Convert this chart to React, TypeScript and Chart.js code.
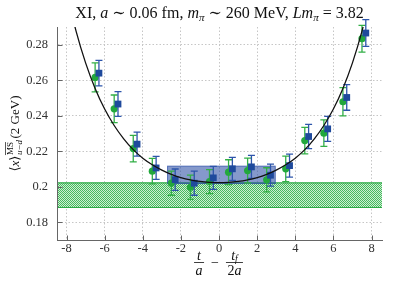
import React, { useEffect, useRef } from 'react';
import { Chart, registerables } from 'chart.js';

Chart.register(...registerables);

const FAMILY = '"Liberation Serif", "DejaVu Serif", serif';

// ---- data ----
const greenX = [-6.5, -5.5, -4.5, -3.5, -2.5, -1.5, -0.5, 0.5, 1.5, 2.5, 3.5, 4.5, 5.5, 6.5, 7.5];
const greenY = [0.2616, 0.2439, 0.2215, 0.2088, 0.202, 0.1997, 0.2029, 0.2082, 0.2091, 0.2039, 0.2101, 0.226, 0.2302, 0.2479, 0.2834];
const greenErr = [0.0082, 0.0078, 0.0075, 0.0072, 0.0068, 0.0068, 0.0068, 0.007, 0.007, 0.0068, 0.0072, 0.0075, 0.0075, 0.008, 0.0075];

const blueX = [-6.3, -5.3, -4.3, -3.3, -2.3, -1.3, -0.3, 0.7, 1.7, 2.7, 3.7, 4.7, 5.7, 6.7, 7.7];
const blueY = [0.264, 0.2466, 0.224, 0.2106, 0.204, 0.202, 0.205, 0.2101, 0.2112, 0.2065, 0.2119, 0.2283, 0.2326, 0.2503, 0.2866];
const blueErr = [0.0072, 0.007, 0.0068, 0.0065, 0.006, 0.0068, 0.0065, 0.0065, 0.0065, 0.0062, 0.0065, 0.0068, 0.007, 0.0072, 0.0075];

const fitX = [-8, -7.5, -7, -6.5, -6, -5.5, -5, -4.5, -4, -3.5, -3, -2.5, -2, -1.5, -1, -0.5, 0, 0.5, 1, 1.5, 2, 2.5, 3, 3.5, 4, 4.5, 5, 5.5, 6, 6.5, 7, 7.5, 8];
const fitY = [0.3098, 0.2877, 0.2698, 0.2554, 0.2438, 0.2345, 0.227, 0.2209, 0.2161, 0.2124, 0.2094, 0.207, 0.2052, 0.2039, 0.203, 0.2025, 0.2023, 0.2025, 0.203, 0.2039, 0.2052, 0.207, 0.2094, 0.2124, 0.2161, 0.2209, 0.227, 0.2345, 0.2438, 0.2554, 0.2698, 0.2877, 0.3098];

const greenBandY = [0.1883, 0.2022];
const blueBandX = [-2.7, 2.95];
const blueBandY = [0.2018, 0.2116];

const xTicks = [-8, -6, -4, -2, 0, 2, 4, 6, 8];
const yTicks = [0.18, 0.2, 0.22, 0.24, 0.26, 0.28];
const xRange = [-8.5, 8.55];
const yRange = [0.17, 0.29];

// ---- text helpers ----
type Part = { t: string; it?: boolean; s: number; dy?: number };
const fontOf = (p: Part) => `${p.it ? 'italic ' : ''}${p.s}px ${FAMILY}`;
function runWidth(ctx: CanvasRenderingContext2D, parts: Part[]) {
  let w = 0;
  for (const p of parts) {
    ctx.font = fontOf(p);
    w += ctx.measureText(p.t).width;
  }
  return w;
}
function drawRun(ctx: CanvasRenderingContext2D, parts: Part[], x: number, y: number) {
  for (const p of parts) {
    ctx.font = fontOf(p);
    ctx.fillText(p.t, x, y + (p.dy || 0));
    x += ctx.measureText(p.t).width;
  }
  return x;
}

const titleParts: Part[] = [
  { t: 'XI, ', s: 16 },
  { t: 'a', it: true, s: 16 },
  { t: ' ∼ 0.06 fm, ', s: 16 },
  { t: 'm', it: true, s: 16 },
  { t: 'π', it: true, s: 11, dy: 3 },
  { t: ' ∼ 260 MeV, ', s: 16 },
  { t: 'Lm', it: true, s: 16 },
  { t: 'π', it: true, s: 11, dy: 3 },
  { t: ' = 3.82', s: 16 },
];

const textPlugin = {
  id: 'mathText',
  afterDraw(chart: any) {
    const ctx: CanvasRenderingContext2D = chart.ctx;
    const area = chart.chartArea;
    const cx = (area.left + area.right) / 2;
    ctx.save();
    ctx.fillStyle = '#111';
    ctx.textAlign = 'left';
    ctx.textBaseline = 'alphabetic';

    // title
    const tw = runWidth(ctx, titleParts);
    drawRun(ctx, titleParts, cx - tw / 2, 17.5);

    // x title: t/a − t_f/2a
    const s = 14;
    const num1: Part[] = [{ t: 't', it: true, s }];
    const den1: Part[] = [{ t: 'a', it: true, s }];
    const num2: Part[] = [{ t: 't', it: true, s }, { t: 'f', it: true, s: 9.5, dy: 2 }];
    const den2: Part[] = [{ t: '2', s }, { t: 'a', it: true, s }];
    const minus: Part[] = [{ t: '−', s }];
    const w1 = Math.max(runWidth(ctx, num1), runWidth(ctx, den1)) + 5;
    const w2 = Math.max(runWidth(ctx, num2), runWidth(ctx, den2)) + 5;
    const wm = runWidth(ctx, minus);
    const gap = 6;
    const total = w1 + gap + wm + gap + w2;
    let x = cx - 1 - total / 2;
    const numY = 259.5, barY = 262, denY = 275;
    const frac = (x0: number, w: number, n: Part[], d: Part[]) => {
      drawRun(ctx, n, x0 + (w - runWidth(ctx, n)) / 2, numY);
      drawRun(ctx, d, x0 + (w - runWidth(ctx, d)) / 2, denY);
      ctx.fillRect(x0 + 1, barY, w - 2, 0.8);
    };
    frac(x, w1, num1, den1);
    x += w1 + gap;
    drawRun(ctx, minus, x, 266.8);
    x += wm + gap;
    frac(x, w2, num2, den2);

    // y title
    ctx.save();
    ctx.translate(14, (area.top + area.bottom) / 2);
    ctx.rotate(-Math.PI / 2);
    const ys = 13, ss = 9;
    const pre: Part[] = [{ t: '⟨', s: ys }, { t: 'x', it: true, s: ys }, { t: '⟩', s: ys }];
    const sup: Part[] = [{ t: 'MS', s: ss }];
    const sub: Part[] = [{ t: 'u−d', it: true, s: ss }];
    const post: Part[] = [{ t: '(2 GeV)', s: ys }];
    const wp = runWidth(ctx, pre);
    const wsup = runWidth(ctx, sup);
    const wsub = runWidth(ctx, sub);
    const wpost = runWidth(ctx, post);
    const wst = Math.max(wsup, wsub) + 2;
    const tot = wp + wst + wpost;
    let yx = -tot / 2;
    const base = 4.5;
    drawRun(ctx, pre, yx, base);
    yx += wp;
    drawRun(ctx, sup, yx + 0.5, base - 5.5);
    ctx.fillRect(yx + 0.5, base - 5.5 - 8, wsup, 0.7);
    drawRun(ctx, sub, yx + 0.5, base + 3);
    yx += wst;
    drawRun(ctx, post, yx, base);
    ctx.restore();

    ctx.restore();
  },
};

let greenPattern: CanvasPattern | string = 'rgba(60,180,80,0.5)';

const bandsPlugin = {
  id: 'bands',
  beforeDatasetsDraw(chart: any) {
    const ctx: CanvasRenderingContext2D = chart.ctx;
    const { x: xs, y: ys } = chart.scales;
    const area = chart.chartArea;
    ctx.save();
    // green band
    const gTop = ys.getPixelForValue(greenBandY[1]);
    const gBot = ys.getPixelForValue(greenBandY[0]);
    ctx.fillStyle = greenPattern as any;
    ctx.fillRect(area.left + 1, gTop, area.right - area.left - 1, gBot - gTop);
    ctx.strokeStyle = 'rgb(45,170,70)';
    ctx.lineWidth = 1.2;
    ctx.beginPath();
    ctx.moveTo(area.left + 1, gTop);
    ctx.lineTo(area.right, gTop);
    ctx.moveTo(area.left + 1, gBot);
    ctx.lineTo(area.right, gBot);
    ctx.stroke();
    // blue band
    const bl = xs.getPixelForValue(blueBandX[0]);
    const br = xs.getPixelForValue(blueBandX[1]);
    const bt = ys.getPixelForValue(blueBandY[1]);
    const bb = ys.getPixelForValue(blueBandY[0]);
    ctx.fillStyle = 'rgba(45,80,165,0.58)';
    ctx.fillRect(bl, bt, br - bl, bb - bt);
    ctx.strokeStyle = 'rgba(45,80,165,0.75)';
    ctx.lineWidth = 1;
    ctx.strokeRect(bl, bt, br - bl, bb - bt);
    ctx.restore();
  },
};

const errPlugin = {
  id: 'errbars',
  beforeDatasetDraw(chart: any, args: any) {
    const ds = chart.data.datasets[args.index];
    if (!ds.errors) return;
    const ctx: CanvasRenderingContext2D = chart.ctx;
    const { x: xs, y: ys } = chart.scales;
    ctx.save();
    ctx.strokeStyle = ds.errColor;
    ctx.lineWidth = 1.3;
    ctx.beginPath();
    ds.data.forEach((p: any, i: number) => {
      const px = xs.getPixelForValue(p.x);
      const y1 = ys.getPixelForValue(p.y - ds.errors[i]);
      const y2 = ys.getPixelForValue(p.y + ds.errors[i]);
      ctx.moveTo(px, y1);
      ctx.lineTo(px, y2);
      ctx.moveTo(px - 3.5, y1);
      ctx.lineTo(px + 3.5, y1);
      ctx.moveTo(px - 3.5, y2);
      ctx.lineTo(px + 3.5, y2);
    });
    ctx.stroke();
    ctx.restore();
  },
};

const axesPlugin = {
  id: 'axesTicks',
  afterDatasetsDraw(chart: any) {
    const ctx: CanvasRenderingContext2D = chart.ctx;
    const { x: xs, y: ys } = chart.scales;
    const area = chart.chartArea;
    const L = Math.floor(area.left) + 0.5;
    const B = Math.floor(area.bottom) + 0.5;
    ctx.save();
    ctx.strokeStyle = '#666';
    ctx.lineWidth = 1;
    ctx.beginPath();
    ctx.moveTo(L, area.top);
    ctx.lineTo(L, B);
    ctx.lineTo(area.right, B);
    for (const v of xTicks) {
      const px = Math.round(xs.getPixelForValue(v)) + 0.5;
      ctx.moveTo(px, B);
      ctx.lineTo(px, B - 5);
    }
    for (const v of yTicks) {
      const py = Math.round(ys.getPixelForValue(v)) + 0.5;
      ctx.moveTo(L, py);
      ctx.lineTo(L + 5, py);
    }
    ctx.stroke();
    ctx.restore();
  },
};

export default function App() {
  const ref = useRef<HTMLCanvasElement>(null);

  useEffect(() => {
    const canvas = ref.current;
    if (!canvas) return;

    const pc = document.createElement('canvas');
    pc.width = 2;
    pc.height = 2;
    const pctx = pc.getContext('2d');
    if (pctx) {
      pctx.fillStyle = 'rgb(205,238,210)';
      pctx.fillRect(0, 0, 2, 2);
      pctx.fillStyle = 'rgb(70,185,95)';
      pctx.fillRect(0, 0, 1, 1);
      pctx.fillRect(1, 1, 1, 1);
      const pat = canvas.getContext('2d')!.createPattern(pc, 'repeat');
      if (pat) greenPattern = pat;
    }

    const chart = new Chart(canvas, {
      type: 'scatter',
      data: {
        datasets: [
          {
            label: 'fit',
            data: fitX.map((x, i) => ({ x, y: fitY[i] })),
            showLine: true,
            borderColor: '#111',
            borderWidth: 1.3,
            pointRadius: 0,
            cubicInterpolationMode: 'monotone',
            order: 1,
          } as any,
          {
            label: 'blue',
            data: blueX.map((x, i) => ({ x, y: blueY[i] })),
            pointStyle: 'rect',
            pointRadius: 4.8,
            backgroundColor: '#1f4a9c',
            borderColor: '#1f4a9c',
            borderWidth: 0,
            order: 2,
            errors: blueErr,
            errColor: 'rgb(45,85,170)',
          } as any,
          {
            label: 'green',
            data: greenX.map((x, i) => ({ x, y: greenY[i] })),
            pointStyle: 'circle',
            pointRadius: 3.6,
            backgroundColor: '#22a83c',
            borderColor: '#22a83c',
            borderWidth: 0,
            order: 3,
            errors: greenErr,
            errColor: 'rgb(50,175,70)',
          } as any,
        ],
      },
      options: {
        animation: false,
        responsive: false,
        maintainAspectRatio: false,
        layout: { padding: { top: 27, right: 16, left: 0, bottom: 0 } },
        plugins: {
          legend: { display: false },
          tooltip: { enabled: false },
          title: { display: false },
        },
        scales: {
          x: {
            type: 'linear',
            min: xRange[0],
            max: xRange[1],
            afterFit: (s: any) => {
              s.height = 43;
            },
            afterBuildTicks: (s: any) => {
              s.ticks = xTicks.map((v) => ({ value: v }));
            },
            ticks: {
              callback: (v: any) => String(v),
              font: { family: FAMILY, size: 12.5 },
              color: '#333',
              padding: 1,
              maxRotation: 0,
              autoSkip: false,
            },
            grid: { color: '#c6c6c6', drawTicks: false, lineWidth: 1 },
            border: { display: true, color: '#666', dash: [1.5, 2] },
          },
          y: {
            type: 'linear',
            min: yRange[0],
            max: yRange[1],
            afterFit: (s: any) => {
              s.width = 57;
            },
            afterBuildTicks: (s: any) => {
              s.ticks = yTicks.map((v) => ({ value: v }));
            },
            ticks: {
              callback: (v: any) => String(v),
              font: { family: FAMILY, size: 12.5 },
              color: '#333',
              padding: 9,
              autoSkip: false,
            },
            grid: { color: '#c6c6c6', drawTicks: false, lineWidth: 1 },
            border: { display: true, color: '#666', dash: [1.5, 2] },
          },
        },
      } as any,
      plugins: [bandsPlugin, errPlugin, axesPlugin, textPlugin],
    });

    return () => chart.destroy();
  }, []);

  return (
    <div style={{ position: 'absolute', left: 0, top: 0, width: 398, height: 283 }}>
      <canvas ref={ref} width={398} height={283} style={{ display: 'block' }} />
    </div>
  );
}
